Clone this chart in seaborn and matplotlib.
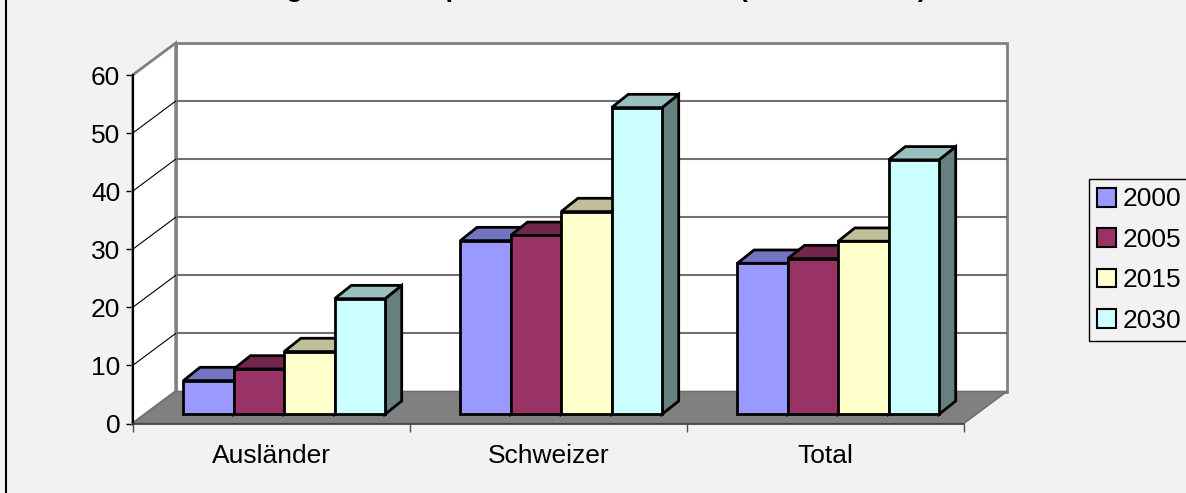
import numpy as np
import pandas as pd
import matplotlib
matplotlib.use("Agg")
import matplotlib.pyplot as plt
from matplotlib.patches import Polygon, Patch
from matplotlib.lines import Line2D
from matplotlib.colors import to_rgb
import seaborn as sns

# ---------------------------------------------------------
# data
# ---------------------------------------------------------
gruppen = ["Ausländer", "Schweizer", "Total"]
jahre = ["2000", "2005", "2015", "2030"]
werte_2000 = [5.8, 29.9, 26.0]
werte_2005 = [7.8, 30.8, 26.8]
werte_2015 = [10.8, 34.9, 29.8]
werte_2030 = [19.9, 52.8, 43.8]
farben = ["#9999FF", "#993366", "#FFFFCC", "#CCFFFF"]
y_ticks = [0, 10, 20, 30, 40, 50, 60]
titel = "Entwicklung des Altersquotienten der Schweiz (2000 bis 2030)"

df = pd.DataFrame({
    "Gruppe": gruppen * 4,
    "Jahr": [j for j in jahre for _ in gruppen],
    "Wert": werte_2000 + werte_2005 + werte_2015 + werte_2030,
})

# ---------------------------------------------------------
# figure + axes (front plane of the fake 3D box)
# ---------------------------------------------------------
sns.set_style("white")
plt.rcParams["font.family"] = ["Liberation Sans", "DejaVu Sans"]
plt.rcParams["text.color"] = "black"
plt.rcParams["xtick.color"] = "black"
plt.rcParams["ytick.color"] = "black"
plt.rcParams["axes.labelcolor"] = "black"

W, H = 1186, 493
bg = "#F2F2F2"
fig = plt.figure(figsize=(W / 100, H / 100), dpi=100, facecolor=bg)
ax = fig.add_axes([132.7 / W, (H - 423.5) / H, 831 / W, 348.5 / H])
ax.set_facecolor("none")

px_x = 831 / 3      # pixels per category
px_y = 348.5 / 60   # pixels per value unit


def dpx(dx, dy):
    # pixel offsets -> data offsets
    return dx / px_x, dy / px_y


wall_dx, wall_dy = dpx(43, 32)
x0, x1 = -0.5, 2.5

# back wall
ax.add_patch(Polygon([(x0 + wall_dx, wall_dy), (x1 + wall_dx, wall_dy),
                      (x1 + wall_dx, 60 + wall_dy), (x0 + wall_dx, 60 + wall_dy)],
                     closed=True, facecolor="white", edgecolor="#808080", lw=2,
                     zorder=0.5, clip_on=False))
# left side wall
ax.add_patch(Polygon([(x0, 0), (x0 + wall_dx, wall_dy), (x0 + wall_dx, 60 + wall_dy), (x0, 60)],
                     closed=True, facecolor="white", edgecolor="#808080", lw=2,
                     zorder=0.6, clip_on=False))

# gridlines on back wall + diagonals on side wall
for v in y_ticks[1:-1]:
    ax.plot([x0 + wall_dx, x1 + wall_dx], [v + wall_dy, v + wall_dy],
            color="#707070", lw=1.5, zorder=0.7, clip_on=False)
    ax.plot([x0, x0 + wall_dx], [v, v + wall_dy], color="black", lw=0.8,
            zorder=0.8, clip_on=False)

# floor
ax.add_patch(Polygon([(x0, 0), (x1, 0), (x1 + wall_dx, wall_dy), (x0 + wall_dx, wall_dy)],
                     closed=True, facecolor="#808080", edgecolor="#707070", lw=1.2,
                     zorder=1, clip_on=False))

# ---------------------------------------------------------
# bars
# ---------------------------------------------------------
sns.barplot(data=df, x="Gruppe", y="Wert", hue="Jahr", palette=farben,
            width=4 * 50.4 / px_x, saturation=1, errorbar=None,
            edgecolor="black", linewidth=2, legend=False, ax=ax)

off_dx, off_dy = dpx(13, 9.2)
bar_dx, bar_dy = dpx(16.7, 13.3)

for i, cont in enumerate(ax.containers):
    base = np.array(to_rgb(farben[i]))
    for bar in cont:
        bx = bar.get_x() + off_dx
        bw = bar.get_width()
        bh = bar.get_height()
        bar.set_x(bx)
        bar.set_y(off_dy)
        bar.set_zorder(3 + 0.1 * i + 0.05)
        bar.set_clip_on(False)
        yt = off_dy + bh
        top = Polygon([(bx, yt), (bx + bw, yt), (bx + bw + bar_dx, yt + bar_dy), (bx + bar_dx, yt + bar_dy)],
                      closed=True, facecolor=base * 0.75, edgecolor="black", lw=2,
                      joinstyle="miter", zorder=3 + 0.1 * i, clip_on=False)
        side = Polygon([(bx + bw, off_dy), (bx + bw + bar_dx, off_dy + bar_dy),
                        (bx + bw + bar_dx, yt + bar_dy), (bx + bw, yt)],
                       closed=True, facecolor=base * 0.5, edgecolor="black", lw=2,
                       joinstyle="miter", zorder=3 + 0.1 * i, clip_on=False)
        ax.add_patch(side)
        ax.add_patch(top)

# ---------------------------------------------------------
# axes, ticks, labels
# ---------------------------------------------------------
ax.set_xlim(x0, x1)
ax.set_ylim(0, 60)
ax.set_yticks(y_ticks)
ax.set_xticks(range(len(gruppen)))
ax.set_xticklabels(gruppen)
ax.set_xticks([-0.5, 0.5, 1.5, 2.5], minor=True)
ax.set_xlabel("")
ax.set_ylabel("")
ax.tick_params(axis="y", left=True, length=5, width=1, color="black", pad=4,
               labelsize=19, labelcolor="black")
ax.tick_params(axis="x", which="major", length=0, pad=15, labelsize=19, labelcolor="black")
ax.tick_params(axis="x", which="minor", bottom=True, length=6, width=1, color="#505050")

for s in ["top", "right"]:
    ax.spines[s].set_visible(False)
ax.spines["left"].set_color("black")
ax.spines["left"].set_linewidth(1.5)
ax.spines["bottom"].set_color("#404040")
ax.spines["bottom"].set_linewidth(1.2)

# legend
handles = [Patch(facecolor=c, edgecolor="black", lw=1.5, label=j) for c, j in zip(farben, jahre)]
fig.legend(handles=handles, loc="upper left", bbox_to_anchor=(1089 / W, 1 - 179 / H),
           frameon=True, fancybox=False, edgecolor="black", facecolor=bg, framealpha=1,
           fontsize=19, handlelength=0.72, handleheight=0.72, handletextpad=0.25,
           labelspacing=0.62, borderpad=0.32, borderaxespad=0, labelcolor="black")

# title (cut off at the top, as in the reference)
fig.text(147 / W, 1 + 2.5 / H, titel, fontsize=19, fontweight="bold", ha="left",
         va="baseline", color="black")

# left border line
fig.add_artist(Line2D([6 / W, 6 / W], [0, 1], transform=fig.transFigure, color="black", lw=1.5))

fig.savefig("out.png", dpi=100, facecolor=bg)
